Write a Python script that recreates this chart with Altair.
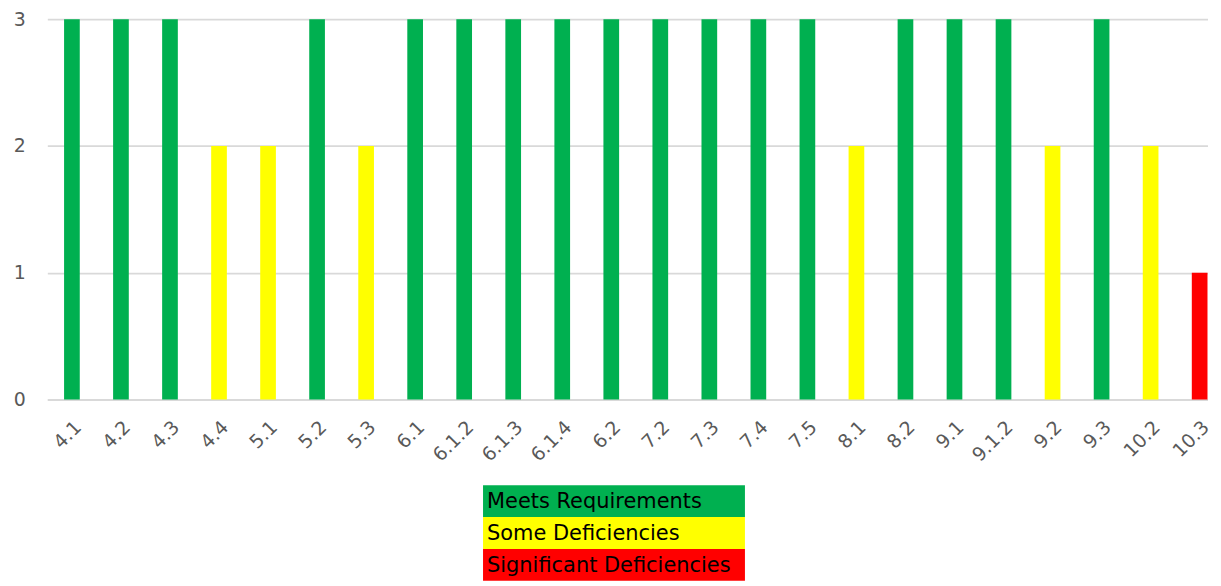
import altair as alt
import pandas as pd

clauses = ["4.1", "4.2", "4.3", "4.4", "5.1", "5.2", "5.3", "6.1", "6.1.2", "6.1.3",
           "6.1.4", "6.2", "7.2", "7.3", "7.4", "7.5", "8.1", "8.2", "9.1", "9.1.2",
           "9.2", "9.3", "10.2", "10.3"]
scores = [3, 3, 3, 2, 2, 3, 2, 3, 3, 3,
          3, 3, 3, 3, 3, 3, 2, 3, 3, 3,
          2, 3, 2, 1]

levels = [3, 2, 1]
level_names = ["Meets Requirements", "Some Deficiencies", "Significant Deficiencies"]
level_colors = ["#00B050", "#FFFF00", "#FF0000"]

FONT = "DejaVu Sans"

df = pd.DataFrame({"clause": clauses, "score": scores})
legend_df = pd.DataFrame({"name": level_names, "score": levels})

bars = alt.Chart(df).mark_bar().encode(
    x=alt.X("clause:N", sort=clauses,
            scale=alt.Scale(paddingInner=0.68, paddingOuter=0.171, align=1),
            axis=alt.Axis(title=None, labelAngle=-45, labelFontSize=19, labelColor="#595959",
                          labelFont=FONT, ticks=False, domainColor="#d9d9d9", domainWidth=2,
                          labelPadding=18)),
    y=alt.Y("score:Q", scale=alt.Scale(domain=[0, 3], nice=False),
            axis=alt.Axis(title=None, values=[0, 1, 2, 3], format="d", labelFontSize=19,
                          labelColor="#595959", labelFont=FONT, ticks=False, domain=False,
                          gridColor="#d9d9d9", gridWidth=1.6, labelPadding=22)),
    color=alt.Color("score:O", scale=alt.Scale(domain=levels, range=level_colors), legend=None),
).properties(width=1165, height=382)

legend_rect = alt.Chart(legend_df).mark_rect().encode(
    y=alt.Y("name:N", sort=level_names, axis=None, scale=alt.Scale(paddingInner=0, paddingOuter=0)),
    x=alt.value(0), x2=alt.value(263),
    color=alt.Color("score:O", scale=alt.Scale(domain=levels, range=level_colors), legend=None),
)
legend_text = alt.Chart(legend_df).mark_text(align="left", baseline="middle", fontSize=21,
                                              font=FONT, color="black", dy=1).encode(
    y=alt.Y("name:N", sort=level_names, axis=None),
    x=alt.value(4),
    text="name:N",
)
legend = alt.layer(legend_rect, legend_text).properties(width=295, height=96)

chart = alt.vconcat(bars, legend, spacing=20, center=True).properties(
    padding={"left": 5, "top": 1, "right": 0, "bottom": 0}
).configure_view(stroke=None)

chart.save("out.html", embed_options={"renderer": "svg", "actions": False})
